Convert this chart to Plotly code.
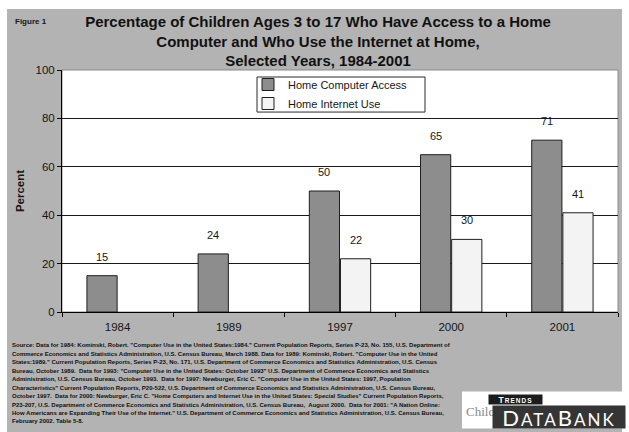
import plotly.graph_objects as go

# ---------------- data ----------------
years = ["1984", "1989", "1997", "2000", "2001"]
computer_access = [15, 24, 50, 65, 71]
internet_use = [None, None, 22, 30, 41]
series_names = ["Home Computer Access", "Home Internet Use"]
y_ticks = [0, 20, 40, 60, 80, 100]

title_lines = [
    "Percentage of Children Ages 3 to 17 Who Have Access to a Home",
    "Computer and Who Use the Internet at Home,",
    "Selected Years, 1984-2001",
]
source_lines = [
    "Source: Data for 1984: Kominski, Robert. \"Computer Use in the United States:1984.\" Current Population Reports, Series P-23, No. 155, U.S. Department of",
    "Commerce Economics and Statistics Administration, U.S. Census Bureau, March 1988. Data for 1989: Kominski, Robert. \"Computer Use in the United",
    "States:1989.\" Current Population Reports, Series P-23, No. 171, U.S. Department of Commerce Economics and Statistics Administration, U.S. Census",
    "Bureau, October 1989.  Data for 1993: \"Computer Use in the United States: October 1993\" U.S. Department of Commerce Economics and Statistics",
    "Administration, U.S. Census Bureau, October 1993.  Data for 1997: Newburger, Eric C. \"Computer Use in the United States: 1997, Population",
    "Characteristics\" Current Population Reports, P20-522, U.S. Department of Commerce Economics and Statistics Administration, U.S. Census Bureau,",
    "October 1997.  Data for 2000: Newburger, Eric C. \"Home Computers and Internet Use in the United States: Special Studies\" Current Population Reports,",
    "P23-207, U.S. Department of Commerce Economics and Statistics Administration, U.S. Census Bureau,  August 2000.  Data for 2001: \"A Nation Online:",
    "How Americans are Expanding Their Use of the Internet.\" U.S. Department of Commerce Economics and Statistics Administration, U.S. Census Bureau,",
    "February 2002. Table 5-8.",
]

# ---------------- geometry helpers ----------------
FIG_W, FIG_H = 629, 432
L, R, T, B = 62, 618, 70, 311.7


def px_x(px):
    return (px - L) / (R - L)


def px_y(py):
    return (B - py) / (B - T)


FONT = "Liberation Sans, Arial, sans-serif"
TXT = "#161616"

fig = go.Figure()
fig.add_bar(
    x=years, y=computer_access, name=series_names[0],
    marker=dict(color="#8d8d8d", line=dict(color="#1e1e1e", width=1)),
)
fig.add_bar(
    x=years, y=internet_use, name=series_names[1],
    marker=dict(color="#f3f3f3", line=dict(color="#1e1e1e", width=1)),
)

annotations = []
# value labels above bars (x given as category index on the category axis)
for vals, dx in ((computer_access, -15.6), (internet_use, 15.6)):
    for i, v in enumerate(vals):
        if v is None:
            continue
        annotations.append(dict(
            x=i, y=v, xref="x", yref="y", text=str(v), showarrow=False,
            xshift=dx, yshift=11, yanchor="bottom",
            font=dict(family=FONT, size=11, color=TXT),
        ))

annotations.append(dict(
    x=px_x(13), y=px_y(22), xref="paper", yref="paper", xanchor="left", yanchor="middle",
    text="<b>Figure 1</b>", showarrow=False, font=dict(family=FONT, size=8, color=TXT),
))

for i, line in enumerate(source_lines):
    annotations.append(dict(
        x=px_x(10), y=px_y(345 + i * 8.45), xref="paper", yref="paper",
        xanchor="left", yanchor="middle", text="<b>" + line + "</b>", showarrow=False,
        font=dict(family=FONT, size=6.0, color="#111111"),
    ))

# logo
annotations.append(dict(
    x=px_x(464), y=px_y(411), xref="paper", yref="paper", xanchor="left", yanchor="middle",
    text="Child", showarrow=False,
    font=dict(family="Liberation Serif, serif", size=13, color="#8a8a8a"),
))
annotations.append(dict(
    x=px_x(515.5), y=px_y(399.5), xref="paper", yref="paper", xanchor="center", yanchor="middle",
    width=53, height=9, bgcolor="#1c1c1c", borderpad=0,
    text="<span style='letter-spacing:1px'><b>T<span style='font-size:6.5px'>RENDS</span></b></span>",
    showarrow=False,
    font=dict(family=FONT, size=8.5, color="#ffffff"),
))
annotations.append(dict(
    x=px_x(559), y=px_y(417), xref="paper", yref="paper", xanchor="center", yanchor="middle",
    width=132, height=22, bgcolor="#353535", borderpad=0,
    text="<span style='letter-spacing:2px'>D<span style='font-size:17px'>ATA</span>B<span style='font-size:17px'>ANK</span></span>",
    showarrow=False,
    font=dict(family="Lato, Noto Sans, sans-serif", size=22, color="#ffffff"),
))

shapes = [
    # grey panel
    dict(type="rect", xref="paper", yref="paper", layer="below",
         x0=px_x(7), x1=px_x(622), y0=px_y(432), y1=px_y(9),
         fillcolor="#b3b3b3", line=dict(width=0)),
    # plot area
    dict(type="rect", xref="paper", yref="paper", layer="below",
         x0=0, x1=1, y0=0, y1=1,
         fillcolor="#ffffff", line=dict(color="#8a8a8a", width=1)),
    # legend box
    dict(type="rect", xref="paper", yref="paper", layer="below",
         x0=px_x(257), x1=px_x(425), y0=px_y(112), y1=px_y(77),
         fillcolor="#ffffff", line=dict(color="#2a2a2a", width=1)),
    # logo white background
    dict(type="rect", xref="paper", yref="paper", layer="below",
         x0=px_x(462), x1=px_x(626), y0=px_y(428), y1=px_y(391),
         fillcolor="#ffffff", line=dict(width=0)),
]

fig.update_layout(
    width=FIG_W, height=FIG_H,
    margin=dict(l=L, r=FIG_W - R, t=T, b=FIG_H - B, pad=0),
    paper_bgcolor="#ffffff", plot_bgcolor="#ffffff",
    font=dict(family=FONT, color=TXT),
    title=dict(
        text="<b>" + "<br>".join(title_lines) + "</b>",
        x=px_x(318), xref="paper", xanchor="center",
        y=1 - 27 / FIG_H, yref="container", yanchor="top",
        font=dict(family=FONT, size=15, color="#111111"),
    ),
    barmode="group", bargap=0.44, bargroupgap=0.03,
    showlegend=True,
    legend=dict(
        x=px_x(248), y=px_y(70), xref="paper", yref="paper",
        xanchor="left", yanchor="top",
        bgcolor="rgba(0,0,0,0)", borderwidth=0,
        font=dict(family=FONT, size=11, color=TXT),
        tracegroupgap=0,
    ),
    xaxis=dict(
        type="category", range=[-0.5, len(years) - 0.5],
        tickson="boundaries", ticks="outside", ticklen=4,
        tickcolor="#000000", showline=True, linecolor="#000000", linewidth=1,
        tickfont=dict(family=FONT, size=11.5, color=TXT), ticklabelstandoff=4,
        showgrid=False,
    ),
    yaxis=dict(
        range=[0, 100], tickvals=y_ticks, ticks="outside", ticklen=4,
        tickcolor="#000000", showline=True, linecolor="#000000", linewidth=1,
        showgrid=True, gridcolor="#1a1a1a", gridwidth=1, zeroline=False,
        tickfont=dict(family=FONT, size=11.5, color=TXT),
        title=dict(text="<b>Percent</b>", standoff=8,
                   font=dict(family=FONT, size=11.5, color=TXT)),
    ),
    annotations=annotations,
    shapes=shapes,
)

fig.write_html(
    "out.html",
    config={"displayModeBar": False},
    post_script="document.body.style.margin='0';",
)
